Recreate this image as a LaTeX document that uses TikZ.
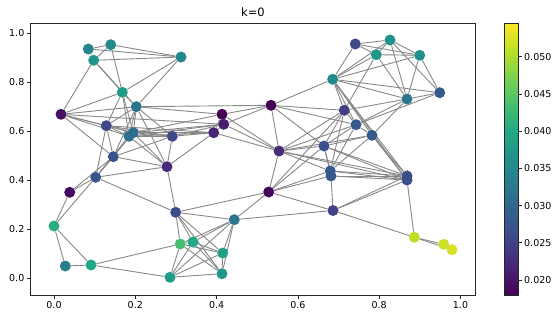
\documentclass[tikz,border=0pt]{standalone}
\usepackage{fontspec}
\setmainfont{DejaVu Sans}
\pgfdeclarelayer{back}
\pgfdeclarelayer{bg}
\pgfsetlayers{back,bg,main}
\definecolor{vir0}{HTML}{440154}
\definecolor{vir1}{HTML}{482475}
\definecolor{vir2}{HTML}{414487}
\definecolor{vir3}{HTML}{355F8D}
\definecolor{vir4}{HTML}{2A788E}
\definecolor{vir5}{HTML}{21918C}
\definecolor{vir6}{HTML}{22A884}
\definecolor{vir7}{HTML}{44BF70}
\definecolor{vir8}{HTML}{7AD151}
\definecolor{vir9}{HTML}{BDDF26}
\definecolor{vir10}{HTML}{FDE725}
\definecolor{edgegray}{HTML}{888888}
\definecolor{axisblack}{HTML}{262626}
\pgfdeclareverticalshading{virshade}{100bp}{color(0bp)=(vir0); color(25bp)=(vir0); color(30bp)=(vir1); color(35bp)=(vir2); color(40bp)=(vir3); color(45bp)=(vir4); color(50bp)=(vir5); color(55bp)=(vir6); color(60bp)=(vir7); color(65bp)=(vir8); color(70bp)=(vir9); color(75bp)=(vir10); color(100bp)=(vir10)}
\newcommand\virset[2]{%
  \pgfmathsetmacro\vt{#2*10}%
  \pgfmathtruncatemacro\vi{min(floor(\vt),9)}%
  \pgfmathtruncatemacro\vf{round((\vt-\vi)*100)}%
  \pgfmathtruncatemacro\vj{\vi+1}%
  \colorlet{#1}{vir\vj!\vf!vir\vi}}
\begin{document}
\begin{tikzpicture}[x=1pt,y=-1pt,
  vnode/.style={circle, inner sep=0pt, minimum size=11pt, draw=none},
  edgeline/.style={draw=edgegray, line width=0.9pt},
  frameline/.style={draw=axisblack, line width=0.8pt},
  tickline/.style={draw=axisblack, line width=0.8pt},
  lab/.style={font=\fontsize{9.5}{11}\selectfont, inner sep=0pt, text=black}]
\useasboundingbox (0,0) rectangle (560,319);
\begin{pgfonlayer}{back}
\fill[white] (0,0) rectangle (560,319);
\end{pgfonlayer}
% title
\node[font=\fontsize{11.5}{13}\selectfont, inner sep=0pt] (title) at (253,12) {k=0};
% nodes
\foreach \n/\x/\y/\t in {
A1/88.3/49/0.45, A2/110.7/44.7/0.47, A3/93.7/60.3/0.52, A4/181/57/0.46,
A5/122.3/92.3/0.55, A6/136.3/106.7/0.38, L7/61/114.3/0.04, L8/106.3/125.7/0.22,
L9a/133.3/132.7/0.37, L9b/129/136.3/0.36, L10/172.3/136.3/0.22, L11/113.3/156.7/0.25,
L12/167/166.7/0.12, L13/95.7/177.3/0.26, L14/69.7/192.3/0.03, L15/54/226/0.63,
L16/65.3/266/0.42, L17/91/265/0.6, L18/175.7/212.3/0.23, L19/180.3/244/0.7,
L20/193/242/0.6, L21/170/277.3/0.55,
M1/222/114.3/0.0, M2/223.7/124.3/0.08, M3/213.7/132.7/0.1, M4/271/105.3/0.0,
M5/279/151/0.13, M6/268.7/192/0.01, M7/234.3/219.7/0.39, M8/222.7/253/0.57,
M9/222/273.7/0.52,
R1/355.3/44/0.22, R2/390/40/0.5, R3/376.3/54.7/0.52, R4/419.7/55.3/0.5,
R5/332.7/79.3/0.47, R6/407/99/0.4, R7/439.7/92.7/0.28, R8/344.3/110.3/0.18,
R9/356/124.7/0.28, R10/372/135.3/0.28, R11/324/146/0.25, R12a/330.3/171/0.28,
R12b/331/176/0.28, R13a/407/176/0.25, R13b/407/180/0.25, R14/333/210.5/0.2,
R15/414.3/237.3/0.9, R16/443.7/244.3/0.92, R17/452/249.7/0.94}
{
  \virset{nc}{\t}
  \node[vnode, fill=nc] (\n) at (\x,\y) {};
}
% edges
\begin{pgfonlayer}{bg}
\foreach \a/\b in {
A1/A2, A1/A3, A2/A3, A1/A4, A2/A4, A3/A4, A2/A5, A3/A5, A3/A6, A4/A5, A4/A6, A5/A6,
A3/L7, A5/L7, A5/L8, A5/L9a, A5/L9b,
A6/L8, A6/L9a, A6/L9b, A6/L10, A6/L12, A6/L11, A6/M1, A6/M4, A6/L7,
L7/L8, L7/L9a, L7/L9b, L7/L11, L7/M2,
L8/L9a, L8/L9b, L8/L10, L8/L11, L8/L13, L8/M3,
L9a/L9b, L9a/L10, L9b/L10, L9a/M1, L9a/M2, L9a/M3, L9b/M2, L9b/M3, L9a/L12, L9b/L12,
L9b/L11, L9b/L13, L9a/L13,
L10/L12, L10/M3, L10/M2, L10/L11,
L11/L12, L11/L13, L11/L14,
L12/L13, L12/M3, L12/L18,
L13/L14, L13/L15, L13/L18,
L14/L15, L15/L16, L15/L17, L16/L17, L17/L19, L17/L21,
L18/M6, L18/M7, L18/L19, L18/L20, L18/M8, L18/M9,
L19/L20, L19/L21, L19/M7, L20/M7, L19/M8, L20/M8, L19/M9, L20/M9, L20/L21, L21/M9,
L21/M7, L21/M8, M7/M8, M7/M9, M8/M9, M6/M7, M7/R14,
M1/M2, M1/M3, M2/M3, M1/M4, M2/M4, M1/M5, M2/M5, M3/M5, M4/M5, M5/M6,
M4/R5, M4/R8, M4/R9, M4/R11, M5/R8, M5/R9, M5/R10, M5/R11, M5/R12a, M5/R13a, M5/R13b,
M6/R11, M6/R12a, M6/R12b, M6/R14, M6/R8,
R1/R2, R1/R3, R1/R4, R2/R3, R2/R4, R3/R4, R1/R5, R2/R5, R3/R5, R4/R5,
R2/R6, R3/R6, R4/R6, R2/R7, R4/R7, R5/R6, R5/R7, R6/R7, R3/R8,
R5/R8, R5/R9, R5/R10, R5/R13a, R5/R13b, R6/R8, R6/R9, R6/R10, R7/R9,
R8/R9, R8/R11, R8/R12a, R9/R10, R9/R11, R9/R12a, R10/R11, R10/R12a, R10/R13a, R10/R13b,
R11/R12a, R11/R12b, R11/R13a, R11/R13b, R12a/R12b, R12a/R13a, R12a/R13b, R12b/R13a,
R12b/R13b, R13a/R13b, R13b/R15, R12b/R14, R13a/R14, R13b/R14, R14/R15,
R15/R16, R15/R17, R16/R17}
{ \draw[edgeline] (\a) -- (\b); }
\end{pgfonlayer}
% axes frame
\draw[frameline] (30.5,23.5) rectangle (475.7,295);
% x ticks
\foreach \v/\x in {0.0/54, 0.2/135.3, 0.4/216.6, 0.6/297.9, 0.8/379.2, 1.0/460.5}{
  \draw[tickline] (\x,295) -- (\x,298.5);
  \node[lab, anchor=north] at (\x,301) {\v};
}
% y ticks
\foreach \v/\y in {0.0/278.3, 0.2/229.3, 0.4/180.3, 0.6/131.3, 0.8/82.3, 1.0/33.3}{
  \draw[tickline] (30.5,\y) -- (27,\y);
  \node[lab, anchor=east] at (24.5,\y) {\v};
}
% colorbar
\shade[shading=virshade] (504.5,23.5) rectangle (518,295);
\draw[frameline] (504.5,23.5) rectangle (518,295);
\foreach \v/\y in {0.020/280, 0.025/242.8, 0.030/205.6, 0.035/168.4, 0.040/131.2, 0.045/94, 0.050/56.8}{
  \draw[tickline] (518,\y) -- (521.5,\y);
  \node[lab, anchor=west] at (524,\y) {\v};
}
\end{tikzpicture}
\end{document}
